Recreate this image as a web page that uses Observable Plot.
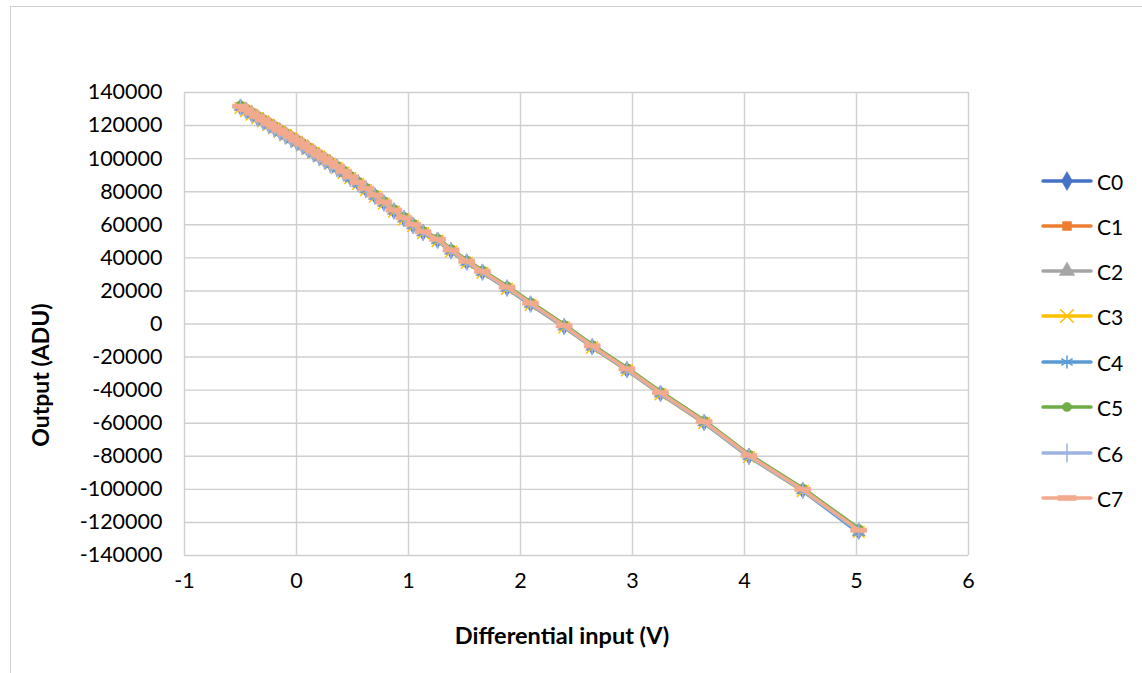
<!DOCTYPE html>
<html>
<head>
<meta charset="utf-8">
<script src="https://cdn.jsdelivr.net/npm/d3@7"></script>
<script src="https://cdn.jsdelivr.net/npm/@observablehq/plot@0.6"></script>
<style>
  html, body { margin: 0; padding: 0; background: #fff; overflow: hidden; }
  body { width: 1142px; height: 673px; position: relative; font-family: Lato, "Open Sans", sans-serif; }
  #frame { position: absolute; left: 10px; top: 6px; width: 1200px; height: 720px; border: 1px solid #cfcfcf; box-sizing: border-box; }
  #chart { position: absolute; left: 0; top: 0; }
  .ylab { position: absolute; left: 40px; top: 375px; transform: translate(-50%, -50%) rotate(-90deg); font-weight: 700; font-size: 23px; white-space: nowrap; color: #000; }
  .xlab { position: absolute; left: 562px; top: 635px; transform: translate(-50%, -50%); font-weight: 700; font-size: 23.5px; white-space: nowrap; color: #000; }
  #legend { position: absolute; left: 1040px; top: 0; }
  .li { position: absolute; left: 0; height: 30px; display: flex; align-items: center; font-size: 21px; color: #000; white-space: nowrap; }
  .li svg { margin-right: 3px; }
</style>
</head>
<body>
<div id="frame"></div>
<div id="chart"></div>
<div class="ylab">Output (ADU)</div>
<div class="xlab">Differential input (V)</div>
<div id="legend"></div>
<script>
const seriesNames = ["C0","C1","C2","C3","C4","C5","C6","C7"];
const seriesColors = ["#4472C4","#ED7D31","#A5A5A5","#FFC000","#5B9BD5","#70AD47","#9DB3E0","#F2AA8E"];
const xTicks = [-1,0,1,2,3,4,5,6];
const yTicks = [-140000,-120000,-100000,-80000,-60000,-40000,-20000,0,20000,40000,60000,80000,100000,120000,140000];

const inputV = [-0.5,-0.45,-0.4,-0.35,-0.3,-0.25,-0.2,-0.15,-0.1,-0.05,0,0.05,0.1,0.15,0.2,0.25,0.3,0.36,0.42,0.48,0.55,0.62,0.7,0.78,0.87,0.96,1.04,1.13,1.26,1.38,1.52,1.66,1.88,2.09,2.39,2.64,2.95,3.25,3.64,4.04,4.52,5.02];

const c0 = [131200,129300,127100,125000,123000,120900,118900,116800,114800,112700,110700,108500,106300,104000,101800,99600,97400,94800,91900,88700,85200,81500,77500,73300,68400,63800,59700,55400,50700,44300,37500,31400,21800,12100,-1500,-13700,-27600,-42000,-59500,-80000,-100500,-125300];
const c1 = [131900,129900,127800,125700,123700,121600,119600,117500,115500,113400,111400,109200,107000,104700,102500,100300,98100,95500,92600,89400,85900,82200,78200,74000,69100,64500,60400,56100,51400,45000,38200,32100,22500,12800,-800,-13000,-26900,-41300,-58800,-79300,-99800,-124500];
const c2 = [131300,129300,127200,125100,123100,121000,119000,116900,114900,112800,110800,108600,106400,104100,101900,99700,97500,94900,92000,88800,85300,81600,77600,73400,68500,63900,59800,55500,50800,44400,37600,31500,21900,12200,-1400,-13600,-27500,-41900,-59400,-79900,-100400,-125800];
const c3 = [130700,128700,126600,124500,122500,120400,118400,116300,114300,112200,110200,108000,105800,103500,101300,99100,96900,94300,91400,88200,84700,81000,77000,72800,67900,63300,59200,54900,50200,43800,37000,30900,21300,11600,-2000,-14200,-28100,-42500,-60000,-80500,-101000,-125700];
const c4 = [130900,128900,126600,124300,122000,119700,117500,115300,113300,111200,109200,107000,104800,102500,100300,98100,95900,93500,90700,87700,84400,80900,77000,72900,68100,63500,59400,55100,50400,44000,37200,31100,21500,11800,-1800,-14000,-27900,-42300,-59800,-80300,-100800,-126300];
const c5 = [132400,130400,128300,126200,124200,122100,120100,118000,116000,113900,111900,109700,107500,105200,103000,100800,98600,96000,93100,89900,86400,82700,78700,74500,69600,65000,60900,56600,51900,45500,38700,32600,23000,13300,-300,-12500,-26400,-40800,-58300,-78800,-99300,-123600];
const c6 = [131200,129200,126900,124600,122300,120000,117800,115600,113600,111500,109500,107300,105100,102800,100600,98400,96200,93800,91000,88000,84700,81200,77200,73000,68200,63600,59600,55300,50600,44200,37400,31300,21700,12000,-1600,-13800,-27700,-42100,-59600,-80100,-100600,-125100];
const c7 = [131700,129700,127600,125500,123500,121400,119400,117300,115300,113200,111200,109000,106800,104500,102300,100100,97900,95300,92400,89200,85700,82000,78000,73800,68900,64300,60200,55900,51200,44800,38000,31900,22300,12600,-1000,-13200,-27100,-41500,-59000,-79500,-100000,-124700];
const seriesValues = [c0,c1,c2,c3,c4,c5,c6,c7];

const dashSymbol = { draw(ctx, size) { const w = Math.sqrt(size) * 0.9; const h = w * 0.28; ctx.rect(-w, -h, 2 * w, 2 * h); } };
const symbolSpec = [
  {symbol: "diamond", fill: true, r: 5},
  {symbol: "square", fill: true, r: 4.4},
  {symbol: "triangle", fill: true, r: 5},
  {symbol: "times", fill: false, r: 5.4},
  {symbol: "asterisk", fill: false, r: 5.4},
  {symbol: "circle", fill: true, r: 4},
  {symbol: "plus", fill: false, r: 5.4},
  {symbol: dashSymbol, fill: true, r: 5}
];

const rows = [];
seriesNames.forEach((name, i) => {
  inputV.forEach((v, j) => rows.push({series: name, idx: i, x: v, y: seriesValues[i][j]}));
});

const marks = [
  Plot.gridX(xTicks, {stroke: "#cfcfcf", strokeOpacity: 1, strokeWidth: 1.4}),
  Plot.gridY(yTicks, {stroke: "#cfcfcf", strokeOpacity: 1, strokeWidth: 1.4}),
  Plot.axisX(xTicks, {tickSize: 0, tickPadding: 17, tickFormat: d => String(d), label: null, fontSize: 21.5}),
  Plot.axisY(yTicks, {tickSize: 0, tickPadding: 22, tickFormat: d => String(d), label: null, fontSize: 21.5})
];
seriesNames.forEach((name, i) => {
  const data = rows.filter(r => r.idx === i);
  const col = seriesColors[i];
  const s = symbolSpec[i];
  marks.push(Plot.line(data, {x: "x", y: "y", stroke: col, strokeWidth: 3.4, curve: "linear"}));
  marks.push(Plot.dot(data, {x: "x", y: "y", symbol: () => s.symbol, r: s.r,
    fill: s.fill ? col : "none", stroke: col, strokeWidth: s.fill ? 0.5 : 1.5}));
});

const chart = Plot.plot({
  width: 1142, height: 673,
  marginLeft: 184, marginRight: 174, marginTop: 92, marginBottom: 118,
  x: {type: "linear", domain: [-1, 6]},
  y: {type: "linear", domain: [-140000, 140000]},
  symbol: {type: "identity"},
  style: {fontFamily: "Lato, 'Open Sans', sans-serif", fontSize: "21.5px", color: "#000", background: "transparent", overflow: "visible"},
  marks
});
document.getElementById("chart").appendChild(chart);

// legend
const legend = document.getElementById("legend");
const legendTop = [181, 226, 271, 316, 362, 407, 453, 498];
const symMap = {diamond: d3.symbolDiamond, square: d3.symbolSquare, triangle: d3.symbolTriangle, times: d3.symbolTimes, asterisk: d3.symbolAsterisk, circle: d3.symbolCircle, plus: d3.symbolPlus};
seriesNames.forEach((name, i) => {
  const s = symbolSpec[i];
  const col = seriesColors[i];
  const el = document.createElement("div");
  el.className = "li";
  el.style.top = (legendTop[i] - 15) + "px";
  const sw = document.createElementNS("http://www.w3.org/2000/svg", "svg");
  sw.setAttribute("width", 54); sw.setAttribute("height", 30);
  const ln = document.createElementNS(sw.namespaceURI, "line");
  ln.setAttribute("x1", 3); ln.setAttribute("x2", 51); ln.setAttribute("y1", 15); ln.setAttribute("y2", 15);
  ln.setAttribute("stroke", col); ln.setAttribute("stroke-width", 3.4); ln.setAttribute("stroke-linecap", "round");
  sw.appendChild(ln);
  const type = typeof s.symbol === "string" ? symMap[s.symbol] : s.symbol;
  const p = document.createElementNS(sw.namespaceURI, "path");
  p.setAttribute("d", d3.symbol(type, Math.PI * (s.r * 1.15) ** 2)());
  p.setAttribute("transform", "translate(27,15)");
  p.setAttribute("fill", s.fill ? col : "none");
  p.setAttribute("stroke", col);
  p.setAttribute("stroke-width", s.fill ? 0.5 : 1.5);
  sw.appendChild(p);
  el.appendChild(sw);
  const t = document.createElement("span");
  t.textContent = name;
  el.appendChild(t);
  legend.appendChild(el);
});
</script>
</body>
</html>
